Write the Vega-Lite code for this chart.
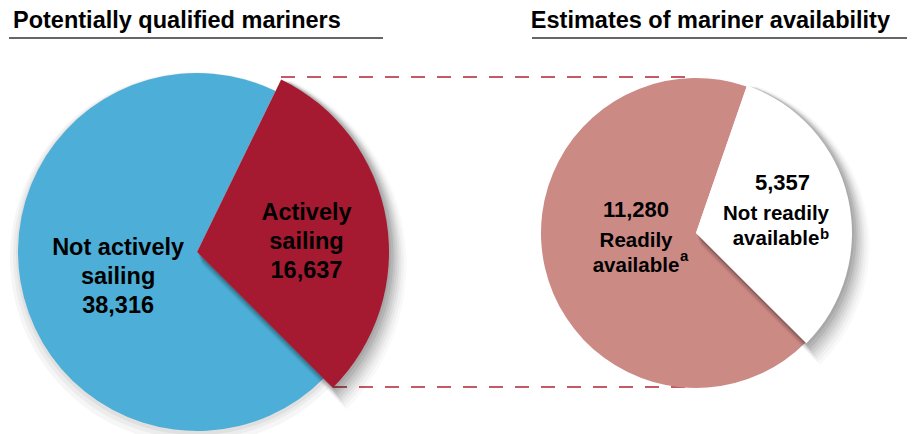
{
  "$schema": "https://vega.github.io/schema/vega-lite/v6.json",
  "width": 920,
  "height": 434,
  "padding": 0,
  "autosize": {"type": "none"},
  "background": "#ffffff",
  "config": {
    "view": {"stroke": null},
    "text": {"font": "Liberation Sans", "fontWeight": "bold", "color": "#000000"}
  },
  "datasets": {
    "slices": [
      {"panel": "left", "category": "Actively sailing", "label": "Actively\nsailing", "note": "", "value": 16637, "order": 1},
      {"panel": "left", "category": "Not actively sailing", "label": "Not actively\nsailing", "note": "", "value": 38316, "order": 2},
      {"panel": "right", "category": "Not readily available", "label": "Not readily\navailable", "note": "b", "value": 5357, "order": 1},
      {"panel": "right", "category": "Readily available", "label": "Readily\navailable", "note": "a", "value": 11280, "order": 2}
    ],
    "titles": [
      {"panel": "left", "title": "Potentially qualified mariners"},
      {"panel": "right", "title": "Estimates of mariner availability"}
    ]
  },
  "resolve": {"scale": {"theta": "independent"}},
  "layer": [
    {
      "data": {"name": "titles"},
      "encoding": {
        "x": {"field": "panel", "type": "nominal", "scale": {"type": "point", "domain": ["left", "right"], "range": [197, 696], "padding": 0}, "axis": null},
        "y": {"field": "panel", "type": "nominal", "scale": {"type": "point", "domain": ["left", "right"], "range": [252, 233], "padding": 0}, "axis": null}
      },
      "layer": [
        {
          "transform": [{"filter": "datum.panel === 'left'"}],
          "mark": {"type": "text", "align": "left", "baseline": "alphabetic", "fontSize": 23.5, "dx": -184, "dy": -224},
          "encoding": {"text": {"field": "title"}}
        },
        {
          "transform": [{"filter": "datum.panel === 'right'"}],
          "mark": {"type": "text", "align": "right", "baseline": "alphabetic", "fontSize": 23.5, "dx": 194, "dy": -205},
          "encoding": {"text": {"field": "title"}}
        },
        {
          "transform": [{"filter": "datum.panel === 'left'"}],
          "mark": {"type": "rule", "stroke": "#333333", "strokeWidth": 1.5, "xOffset": -188, "x2Offset": 186, "yOffset": -214},
          "encoding": {"x2": {"field": "panel"}}
        },
        {
          "transform": [{"filter": "datum.panel === 'right'"}],
          "mark": {"type": "rule", "stroke": "#333333", "strokeWidth": 1.5, "xOffset": -164, "x2Offset": 211, "yOffset": -195},
          "encoding": {"x2": {"field": "panel"}}
        }
      ]
    },
    {
      "data": {"name": "slices"},
      "transform": [{"filter": "datum.category === 'Actively sailing'"}],
      "encoding": {
        "x": {"field": "panel", "type": "nominal", "scale": {"type": "point", "domain": ["left", "right"], "range": [197, 696], "padding": 0}, "axis": null},
        "x2": {"datum": "right"},
        "y": {"field": "panel", "type": "nominal", "scale": {"type": "point", "domain": ["left", "right"], "range": [252, 233], "padding": 0}, "axis": null}
      },
      "layer": [
        {"mark": {"type": "rule", "stroke": "#C45A63", "strokeWidth": 2, "strokeDash": [14, 12], "xOffset": 84, "yOffset": -175}},
        {"mark": {"type": "rule", "stroke": "#C45A63", "strokeWidth": 2, "strokeDash": [14, 12], "xOffset": 136, "yOffset": 135}}
      ]
    },
    {
      "data": {"name": "slices"},
      "transform": [
        {"filter": "datum.panel === 'left'"},
        {"stack": "value", "groupby": ["panel"], "sort": [{"field": "order", "order": "ascending"}], "as": ["t0", "t1"], "offset": "normalize"},
        {"calculate": "(datum.t0 + datum.t1) / 2", "as": "tm"},
        {"calculate": "datum.label + '\\n' + format(datum.value, ',')", "as": "lbl"}
      ],
      "encoding": {
        "x": {"field": "panel", "type": "nominal", "scale": {"type": "point", "domain": ["left", "right"], "range": [197, 696], "padding": 0}, "axis": null},
        "y": {"field": "panel", "type": "nominal", "scale": {"type": "point", "domain": ["left", "right"], "range": [252, 233], "padding": 0}, "axis": null}
      },
      "layer": [
        {
          "transform": [{"filter": "datum.order === 2"}],
          "mark": {"type": "arc", "outerRadius": 186, "theta": 0, "theta2": 6.2832, "fill": "#000000", "opacity": 0.035, "yOffset": 6, "xOffset": -1}
        },
        {
          "transform": [{"filter": "datum.order === 2"}],
          "mark": {"type": "arc", "outerRadius": 183, "theta": 0, "theta2": 6.2832, "fill": "#000000", "opacity": 0.04, "yOffset": 4, "xOffset": -1}
        },
        {
          "transform": [{"filter": "datum.order === 2"}],
          "mark": {"type": "arc", "outerRadius": 181, "theta": 0, "theta2": 6.2832, "fill": "#000000", "opacity": 0.05, "yOffset": 2}
        },
        {
          "transform": [{"filter": "datum.order === 2"}],
          "mark": {"type": "arc", "outerRadius": 179},
          "encoding": {
            "theta": {"field": "t0", "type": "quantitative", "scale": {"domain": [0, 1], "range": [0.4538, 6.737]}},
            "theta2": {"field": "t1"},
            "color": {"field": "category", "type": "nominal", "scale": {"domain": ["Not actively sailing", "Actively sailing", "Readily available", "Not readily available"], "range": ["#4DAFD7", "#A51A31", "#CC8A85", "#FFFFFF"]}, "legend": null}
          }
        },
        {
          "transform": [{"filter": "datum.order === 1"}],
          "mark": {"type": "arc", "outerRadius": 193, "fill": "#000000", "opacity": 0.07, "xOffset": 1, "yOffset": 2},
          "encoding": {"theta": {"field": "t0", "type": "quantitative", "scale": {"domain": [0, 1], "range": [0.4538, 6.737]}}, "theta2": {"field": "t1"}}
        },
        {
          "transform": [{"filter": "datum.order === 1"}],
          "mark": {"type": "arc", "outerRadius": 195, "fill": "#000000", "opacity": 0.07, "xOffset": 1.5, "yOffset": 3.5},
          "encoding": {"theta": {"field": "t0", "type": "quantitative", "scale": {"domain": [0, 1], "range": [0.4538, 6.737]}}, "theta2": {"field": "t1"}}
        },
        {
          "transform": [{"filter": "datum.order === 1"}],
          "mark": {"type": "arc", "outerRadius": 196.5, "fill": "#000000", "opacity": 0.06, "xOffset": 2, "yOffset": 5},
          "encoding": {"theta": {"field": "t0", "type": "quantitative", "scale": {"domain": [0, 1], "range": [0.4538, 6.737]}}, "theta2": {"field": "t1"}}
        },
        {
          "transform": [{"filter": "datum.order === 1"}],
          "mark": {"type": "arc", "outerRadius": 198, "fill": "#000000", "opacity": 0.05, "xOffset": 2.5, "yOffset": 6.5},
          "encoding": {"theta": {"field": "t0", "type": "quantitative", "scale": {"domain": [0, 1], "range": [0.4538, 6.737]}}, "theta2": {"field": "t1"}}
        },
        {
          "transform": [{"filter": "datum.order === 1"}],
          "mark": {"type": "arc", "outerRadius": 199.5, "fill": "#000000", "opacity": 0.045, "xOffset": 3, "yOffset": 8},
          "encoding": {"theta": {"field": "t0", "type": "quantitative", "scale": {"domain": [0, 1], "range": [0.4538, 6.737]}}, "theta2": {"field": "t1"}}
        },
        {
          "transform": [{"filter": "datum.order === 1"}],
          "mark": {"type": "arc", "outerRadius": 201, "fill": "#000000", "opacity": 0.04, "xOffset": 3.5, "yOffset": 9.5},
          "encoding": {"theta": {"field": "t0", "type": "quantitative", "scale": {"domain": [0, 1], "range": [0.4538, 6.737]}}, "theta2": {"field": "t1"}}
        },
        {
          "transform": [{"filter": "datum.order === 1"}],
          "mark": {"type": "arc", "outerRadius": 203, "fill": "#000000", "opacity": 0.03, "xOffset": 4, "yOffset": 11},
          "encoding": {"theta": {"field": "t0", "type": "quantitative", "scale": {"domain": [0, 1], "range": [0.4538, 6.737]}}, "theta2": {"field": "t1"}}
        },
        {
          "transform": [{"filter": "datum.order === 1"}],
          "mark": {"type": "arc", "outerRadius": 205, "fill": "#000000", "opacity": 0.025, "xOffset": 4.5, "yOffset": 12.5},
          "encoding": {"theta": {"field": "t0", "type": "quantitative", "scale": {"domain": [0, 1], "range": [0.4538, 6.737]}}, "theta2": {"field": "t1"}}
        },
        {
          "transform": [{"filter": "datum.order === 1"}],
          "mark": {"type": "arc", "outerRadius": 192},
          "encoding": {
            "theta": {"field": "t0", "type": "quantitative", "scale": {"domain": [0, 1], "range": [0.4538, 6.737]}},
            "theta2": {"field": "t1"},
            "color": {"field": "category", "type": "nominal", "scale": {"domain": ["Not actively sailing", "Actively sailing", "Readily available", "Not readily available"], "range": ["#4DAFD7", "#A51A31", "#CC8A85", "#FFFFFF"]}, "legend": null}
          }
        },
        {
          "transform": [{"filter": "datum.order === 2"}],
          "mark": {"type": "text", "radius": 80, "dy": -10, "fontSize": 23.5, "lineHeight": 29, "lineBreak": "\n", "align": "center", "baseline": "alphabetic"},
          "encoding": {
            "theta": {"field": "tm", "type": "quantitative", "scale": {"domain": [0, 1], "range": [0.4538, 6.737]}},
            "text": {"field": "lbl"}
          }
        },
        {
          "transform": [{"filter": "datum.order === 1"}],
          "mark": {"type": "text", "radius": 111, "dy": -13.7, "fontSize": 23.5, "lineHeight": 29, "lineBreak": "\n", "align": "center", "baseline": "alphabetic"},
          "encoding": {
            "theta": {"field": "tm", "type": "quantitative", "scale": {"domain": [0, 1], "range": [0.4538, 6.737]}},
            "text": {"field": "lbl"}
          }
        }
      ]
    },
    {
      "data": {"name": "slices"},
      "transform": [
        {"filter": "datum.panel === 'right'"},
        {"stack": "value", "groupby": ["panel"], "sort": [{"field": "order", "order": "ascending"}], "as": ["t0", "t1"], "offset": "normalize"},
        {"calculate": "(datum.t0 + datum.t1) / 2", "as": "tm"}
      ],
      "encoding": {
        "x": {"field": "panel", "type": "nominal", "scale": {"type": "point", "domain": ["left", "right"], "range": [197, 696], "padding": 0}, "axis": null},
        "y": {"field": "panel", "type": "nominal", "scale": {"type": "point", "domain": ["left", "right"], "range": [252, 233], "padding": 0}, "axis": null}
      },
      "layer": [
        {
          "transform": [{"filter": "datum.order === 2"}],
          "mark": {"type": "arc", "outerRadius": 155},
          "encoding": {
            "theta": {"field": "t0", "type": "quantitative", "scale": {"domain": [0, 1], "range": [0.333, 6.6162]}},
            "theta2": {"field": "t1"},
            "color": {"field": "category", "type": "nominal", "scale": {"domain": ["Not actively sailing", "Actively sailing", "Readily available", "Not readily available"], "range": ["#4DAFD7", "#A51A31", "#CC8A85", "#FFFFFF"]}, "legend": null}
          }
        },
        {
          "transform": [{"filter": "datum.order === 1"}],
          "mark": {"type": "arc", "outerRadius": 157, "fill": "#000000", "opacity": 0.07, "xOffset": 1, "yOffset": 2},
          "encoding": {"theta": {"field": "t0", "type": "quantitative", "scale": {"domain": [0, 1], "range": [0.333, 6.6162]}}, "theta2": {"field": "t1"}}
        },
        {
          "transform": [{"filter": "datum.order === 1"}],
          "mark": {"type": "arc", "outerRadius": 159, "fill": "#000000", "opacity": 0.07, "xOffset": 1.5, "yOffset": 3.5},
          "encoding": {"theta": {"field": "t0", "type": "quantitative", "scale": {"domain": [0, 1], "range": [0.333, 6.6162]}}, "theta2": {"field": "t1"}}
        },
        {
          "transform": [{"filter": "datum.order === 1"}],
          "mark": {"type": "arc", "outerRadius": 160.5, "fill": "#000000", "opacity": 0.06, "xOffset": 2, "yOffset": 5},
          "encoding": {"theta": {"field": "t0", "type": "quantitative", "scale": {"domain": [0, 1], "range": [0.333, 6.6162]}}, "theta2": {"field": "t1"}}
        },
        {
          "transform": [{"filter": "datum.order === 1"}],
          "mark": {"type": "arc", "outerRadius": 162, "fill": "#000000", "opacity": 0.05, "xOffset": 2.5, "yOffset": 6.5},
          "encoding": {"theta": {"field": "t0", "type": "quantitative", "scale": {"domain": [0, 1], "range": [0.333, 6.6162]}}, "theta2": {"field": "t1"}}
        },
        {
          "transform": [{"filter": "datum.order === 1"}],
          "mark": {"type": "arc", "outerRadius": 163.5, "fill": "#000000", "opacity": 0.045, "xOffset": 3, "yOffset": 8},
          "encoding": {"theta": {"field": "t0", "type": "quantitative", "scale": {"domain": [0, 1], "range": [0.333, 6.6162]}}, "theta2": {"field": "t1"}}
        },
        {
          "transform": [{"filter": "datum.order === 1"}],
          "mark": {"type": "arc", "outerRadius": 165, "fill": "#000000", "opacity": 0.04, "xOffset": 3.5, "yOffset": 9.5},
          "encoding": {"theta": {"field": "t0", "type": "quantitative", "scale": {"domain": [0, 1], "range": [0.333, 6.6162]}}, "theta2": {"field": "t1"}}
        },
        {
          "transform": [{"filter": "datum.order === 1"}],
          "mark": {"type": "arc", "outerRadius": 167, "fill": "#000000", "opacity": 0.03, "xOffset": 4, "yOffset": 11},
          "encoding": {"theta": {"field": "t0", "type": "quantitative", "scale": {"domain": [0, 1], "range": [0.333, 6.6162]}}, "theta2": {"field": "t1"}}
        },
        {
          "transform": [{"filter": "datum.order === 1"}],
          "mark": {"type": "arc", "outerRadius": 169, "fill": "#000000", "opacity": 0.025, "xOffset": 4.5, "yOffset": 12.5},
          "encoding": {"theta": {"field": "t0", "type": "quantitative", "scale": {"domain": [0, 1], "range": [0.333, 6.6162]}}, "theta2": {"field": "t1"}}
        },
        {
          "transform": [{"filter": "datum.order === 1"}],
          "mark": {"type": "arc", "outerRadius": 156},
          "encoding": {
            "theta": {"field": "t0", "type": "quantitative", "scale": {"domain": [0, 1], "range": [0.333, 6.6162]}},
            "theta2": {"field": "t1"},
            "color": {"field": "category", "type": "nominal", "scale": {"domain": ["Not actively sailing", "Actively sailing", "Readily available", "Not readily available"], "range": ["#4DAFD7", "#A51A31", "#CC8A85", "#FFFFFF"]}, "legend": null}
          }
        },
        {
          "transform": [{"filter": "datum.order === 2"}],
          "mark": {"type": "text", "radius": 60, "dx": -1.5, "dy": -29.5, "fontSize": 22, "align": "center", "baseline": "alphabetic"},
          "encoding": {
            "theta": {"field": "tm", "type": "quantitative", "scale": {"domain": [0, 1], "range": [0.333, 6.6162]}},
            "text": {"field": "value", "type": "quantitative", "format": ","}
          }
        },
        {
          "transform": [{"filter": "datum.order === 2"}],
          "mark": {"type": "text", "radius": 60, "dx": -1.5, "dy": 0.5, "fontSize": 20.5, "lineHeight": 25, "lineBreak": "\n", "align": "center", "baseline": "alphabetic"},
          "encoding": {
            "theta": {"field": "tm", "type": "quantitative", "scale": {"domain": [0, 1], "range": [0.333, 6.6162]}},
            "text": {"field": "label"}
          }
        },
        {
          "transform": [{"filter": "datum.order === 2"}],
          "mark": {"type": "text", "radius": 60, "dx": 42.5, "dy": 15, "fontSize": 15, "align": "left", "baseline": "alphabetic"},
          "encoding": {
            "theta": {"field": "tm", "type": "quantitative", "scale": {"domain": [0, 1], "range": [0.333, 6.6162]}},
            "text": {"field": "note"}
          }
        },
        {
          "transform": [{"filter": "datum.order === 1"}],
          "mark": {"type": "text", "radius": 85, "dx": 3.7, "dy": -23.9, "fontSize": 22, "align": "center", "baseline": "alphabetic"},
          "encoding": {
            "theta": {"field": "tm", "type": "quantitative", "scale": {"domain": [0, 1], "range": [0.333, 6.6162]}},
            "text": {"field": "value", "type": "quantitative", "format": ","}
          }
        },
        {
          "transform": [{"filter": "datum.order === 1"}],
          "mark": {"type": "text", "radius": 85, "dx": -2.8, "dy": 6.1, "fontSize": 20.5, "lineHeight": 25, "lineBreak": "\n", "align": "center", "baseline": "alphabetic"},
          "encoding": {
            "theta": {"field": "tm", "type": "quantitative", "scale": {"domain": [0, 1], "range": [0.333, 6.6162]}},
            "text": {"field": "label"}
          }
        },
        {
          "transform": [{"filter": "datum.order === 1"}],
          "mark": {"type": "text", "radius": 85, "dx": 41.2, "dy": 25.5, "fontSize": 15, "align": "left", "baseline": "alphabetic"},
          "encoding": {
            "theta": {"field": "tm", "type": "quantitative", "scale": {"domain": [0, 1], "range": [0.333, 6.6162]}},
            "text": {"field": "note"}
          }
        }
      ]
    }
  ]
}
